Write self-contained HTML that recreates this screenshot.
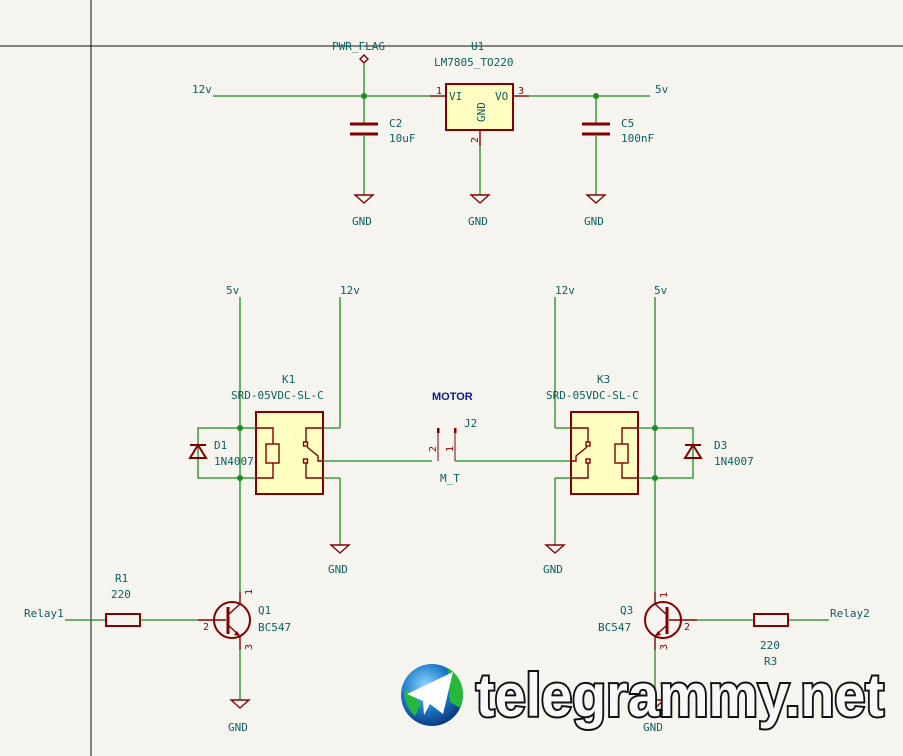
<!DOCTYPE html>
<html><head><meta charset="utf-8"><style>
html,body{margin:0;padding:0;background:#f5f4ef;}
svg{display:block}
text{font-family:"DejaVu Sans Mono","Liberation Mono",monospace;fill:#0e6060;font-size:11px}
.w{stroke:#1e8c1e;stroke-width:1.3;fill:none}
.r{stroke:#840000;stroke-width:1.4;fill:none}
.rb{stroke:#840000;stroke-width:2;fill:#ffffc2}
.j{fill:#1e8c1e}
.pn{fill:#a00000;font-size:10px}
</style></head><body>
<svg width="903" height="756" viewBox="0 0 903 756" xmlns="http://www.w3.org/2000/svg">
<rect width="903" height="756" fill="#f5f4ef"/>
<line x1="0" y1="46" x2="903" y2="46" stroke="#111" stroke-width="1"/>
<line x1="91" y1="0" x2="91" y2="756" stroke="#111" stroke-width="1"/>

<!-- Top regulator -->
<text x="192" y="93">12v</text>
<line class="w" x1="213" y1="96" x2="430" y2="96"/>
<circle class="j" cx="364" cy="96" r="3"/>
<text x="332" y="50" font-size="10">PWR_FLAG</text>
<path class="r" d="M364,55 l4,4 l-4,4 l-4,-4 z"/>
<line class="w" x1="364" y1="64" x2="364" y2="124"/>
<line class="r" x1="350" y1="124" x2="378" y2="124" style="stroke-width:3"/>
<line class="r" x1="350" y1="134" x2="378" y2="134" style="stroke-width:3"/>
<line class="w" x1="364" y1="134" x2="364" y2="195"/>
<text x="389" y="127">C2</text><text x="389" y="142">10uF</text>
<path class="r" d="M355,195 h18 l-9,8 z"/>
<text x="352" y="225">GND</text>

<text x="471" y="50">U1</text>
<text x="434" y="66">LM7805_TO220</text>
<rect class="rb" x="446" y="84" width="67" height="46"/>
<line class="r" x1="430" y1="96" x2="446" y2="96"/>
<text x="436" y="94" class="pn">1</text>
<text x="449" y="100">VI</text>
<text x="495" y="100">VO</text>
<text transform="translate(485,122) rotate(-90)">GND</text>
<line class="r" x1="513" y1="96" x2="529" y2="96"/>
<text x="518" y="94" class="pn">3</text>
<line class="r" x1="480" y1="130" x2="480" y2="146"/>
<text transform="translate(478,143) rotate(-90)" class="pn">2</text>
<line class="w" x1="480" y1="146" x2="480" y2="195"/>
<path class="r" d="M471,195 h18 l-9,8 z"/>
<text x="468" y="225">GND</text>

<line class="w" x1="529" y1="96" x2="650" y2="96"/>
<circle class="j" cx="596" cy="96" r="3"/>
<text x="655" y="93">5v</text>
<line class="w" x1="596" y1="96" x2="596" y2="124"/>
<line class="r" x1="582" y1="124" x2="610" y2="124" style="stroke-width:3"/>
<line class="r" x1="582" y1="134" x2="610" y2="134" style="stroke-width:3"/>
<line class="w" x1="596" y1="134" x2="596" y2="195"/>
<text x="621" y="127">C5</text><text x="621" y="142">100nF</text>
<path class="r" d="M587,195 h18 l-9,8 z"/>
<text x="584" y="225">GND</text>

<!-- Left relay -->
<text x="226" y="294">5v</text>
<text x="340" y="294">12v</text>
<line class="w" x1="240" y1="297" x2="240" y2="592"/>
<line class="w" x1="340" y1="297" x2="340" y2="428"/>
<line class="w" x1="323" y1="428" x2="340" y2="428"/>
<circle class="j" cx="240" cy="428" r="3"/>
<circle class="j" cx="240" cy="478" r="3"/>
<path class="w" d="M240,428 H198 V478 H240"/>
<path class="r" d="M190,445 h16 M198,445 l-8,13 h16 z" style="stroke-width:2"/>
<text x="214" y="449">D1</text><text x="214" y="465">1N4007</text>
<text x="282" y="383">K1</text>
<text x="231" y="399">SRD-05VDC-SL-C</text>
<rect class="rb" x="256" y="412" width="67" height="82"/>
<line class="w" x1="240" y1="428" x2="256" y2="428"/>
<line class="w" x1="240" y1="478" x2="256" y2="478"/>
<path class="r" d="M256,428 H273 V444 M273,463 V478 H256"/>
<rect class="r" x="266" y="444" width="13" height="19"/>
<path class="r" d="M323,428 H306 V442 M306,463 V478 H323"/>
<rect class="r" x="303.5" y="442" width="4" height="4"/>
<rect class="r" x="303.5" y="459" width="4" height="4"/>
<path class="r" d="M307,447 L318,456 V461 H323"/>
<line class="w" x1="323" y1="461" x2="432" y2="461"/>
<line class="w" x1="323" y1="478" x2="340" y2="478"/>
<line class="w" x1="340" y1="478" x2="340" y2="545"/>
<path class="r" d="M331,545 h18 l-9,8 z"/>
<text x="328" y="573">GND</text>

<!-- J2 -->
<text x="432" y="400" style="fill:#0a1a8c;font-weight:bold;font-family:'Liberation Sans',sans-serif;font-size:11px">MOTOR</text>
<text x="464" y="427">J2</text>
<line class="r" x1="438" y1="428" x2="438" y2="461" style="stroke-width:1"/>
<line class="r" x1="455" y1="428" x2="455" y2="461" style="stroke-width:1"/>
<rect x="437" y="428" width="2.5" height="5" fill="#840000"/>
<rect x="454" y="428" width="2.5" height="5" fill="#840000"/>
<text transform="translate(436,452) rotate(-90)" class="pn">2</text>
<text transform="translate(453,452) rotate(-90)" class="pn">1</text>
<text x="440" y="482">M_T</text>
<line class="w" x1="455" y1="461" x2="571" y2="461"/>

<!-- Right relay -->
<text x="555" y="294">12v</text>
<text x="654" y="294">5v</text>
<line class="w" x1="555" y1="297" x2="555" y2="428"/>
<line class="w" x1="555" y1="428" x2="571" y2="428"/>
<line class="w" x1="655" y1="297" x2="655" y2="592"/>
<circle class="j" cx="655" cy="428" r="3"/>
<circle class="j" cx="655" cy="478" r="3"/>
<path class="w" d="M655,428 H693 V478 H655"/>
<path class="r" d="M685,445 h16 M693,445 l-8,13 h16 z" style="stroke-width:2"/>
<text x="714" y="449">D3</text><text x="714" y="465">1N4007</text>
<text x="597" y="383">K3</text>
<text x="546" y="399">SRD-05VDC-SL-C</text>
<rect class="rb" x="571" y="412" width="67" height="82"/>
<line class="w" x1="638" y1="428" x2="655" y2="428"/>
<line class="w" x1="638" y1="478" x2="655" y2="478"/>
<path class="r" d="M638,428 H622 V444 M622,463 V478 H638"/>
<rect class="r" x="615" y="444" width="13" height="19"/>
<path class="r" d="M571,428 H588 V442 M588,463 V478 H571"/>
<rect class="r" x="586" y="442" width="4" height="4"/>
<rect class="r" x="586" y="459" width="4" height="4"/>
<path class="r" d="M587,447 L576,456 V461 H571"/>
<line class="w" x1="571" y1="478" x2="555" y2="478"/>
<line class="w" x1="555" y1="478" x2="555" y2="545"/>
<path class="r" d="M546,545 h18 l-9,8 z"/>
<text x="543" y="573">GND</text>

<!-- Q1 -->
<text x="24" y="617">Relay1</text>
<line class="w" x1="65" y1="620" x2="106" y2="620"/>
<rect class="r" x="106" y="614" width="34" height="12" style="stroke-width:2"/>
<text x="115" y="582">R1</text><text x="111" y="598">220</text>
<line class="w" x1="140" y1="620" x2="198" y2="620"/>
<line class="r" x1="198" y1="620" x2="226" y2="620"/>
<text x="203" y="630" class="pn">2</text>
<circle class="r" cx="232" cy="620" r="18" style="stroke-width:2"/>
<line class="r" x1="228" y1="607" x2="228" y2="634" style="stroke-width:3"/>
<line class="r" x1="240" y1="592" x2="240" y2="604"/>
<path class="r" d="M240,604 L228,615"/>
<path class="r" d="M228,625 L240,636 V650"/>
<path d="M240,636 l-6,-1 l3,-4 z" fill="#840000"/>
<text transform="translate(252,595) rotate(-90)" class="pn">1</text>
<text transform="translate(252,650) rotate(-90)" class="pn">3</text>
<line class="w" x1="240" y1="650" x2="240" y2="700"/>
<path class="r" d="M231,700 h18 l-9,8 z"/>
<text x="228" y="731">GND</text>
<text x="258" y="614">Q1</text><text x="258" y="631">BC547</text>

<!-- Q3 -->
<text x="830" y="617">Relay2</text>
<line class="w" x1="788" y1="620" x2="829" y2="620"/>
<rect class="r" x="754" y="614" width="34" height="12" style="stroke-width:2"/>
<text x="760" y="649">220</text><text x="764" y="665">R3</text>
<line class="w" x1="697" y1="620" x2="754" y2="620"/>
<line class="r" x1="669" y1="620" x2="697" y2="620"/>
<text x="684" y="630" class="pn">2</text>
<circle class="r" cx="663" cy="620" r="18" style="stroke-width:2"/>
<line class="r" x1="667" y1="607" x2="667" y2="634" style="stroke-width:3"/>
<line class="r" x1="655" y1="592" x2="655" y2="604"/>
<path class="r" d="M655,604 L667,615"/>
<path class="r" d="M667,625 L655,636 V650"/>
<path d="M655,636 l6,-1 l-3,-4 z" fill="#840000"/>
<text transform="translate(667,598) rotate(-90)" class="pn">1</text>
<text transform="translate(667,650) rotate(-90)" class="pn">3</text>
<line class="w" x1="655" y1="650" x2="655" y2="700"/>
<path class="r" d="M646,700 h18 l-9,8 z"/>
<text x="643" y="731">GND</text>
<text x="620" y="614">Q3</text><text x="598" y="631">BC547</text>

<!-- watermark -->
<defs><radialGradient id="g" cx="40%" cy="35%" r="65%"><stop offset="0" stop-color="#8fd8ff"/><stop offset="0.6" stop-color="#1a78c8"/><stop offset="1" stop-color="#0a3d80"/></radialGradient></defs>
<circle cx="432" cy="695" r="31" fill="url(#g)"/>
<path d="M448,668 a31,31 0 0 1 12,40 l-10,-6 z" fill="#26b83a"/>
<path d="M405,688 a31,31 0 0 0 10,28 l6,-12 z" fill="#26b83a"/>
<path d="M407,694 L453,672 L443,714 L430,704 L424,715 L423,701 Z" fill="#ffffff"/>
<text x="476" y="716" textLength="408" lengthAdjust="spacingAndGlyphs" style="font-family:'Liberation Sans','DejaVu Sans',sans-serif;font-size:60px;font-weight:bold;fill:#f8f8f8;stroke:#111;stroke-width:4;paint-order:stroke">telegrammy.net</text>
</svg>
</body></html>
